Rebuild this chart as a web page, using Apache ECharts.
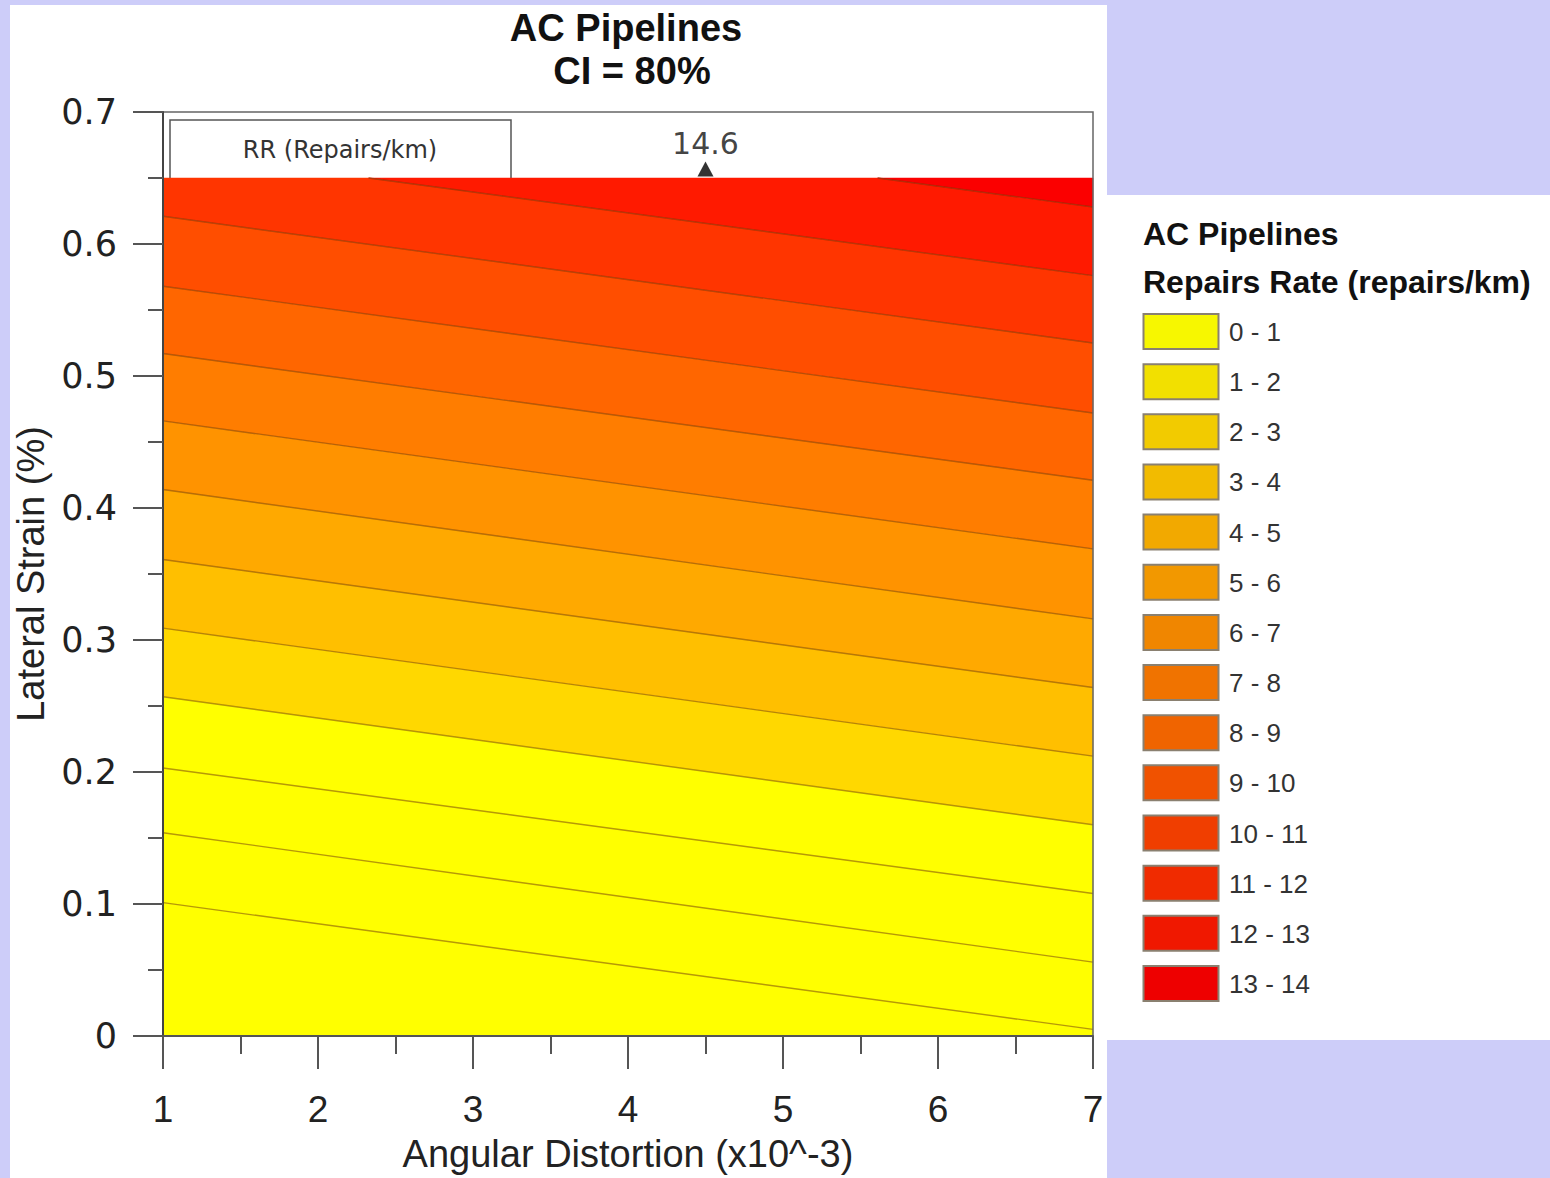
<!DOCTYPE html>
<html>
<head>
<meta charset="utf-8">
<script src="https://cdn.jsdelivr.net/npm/echarts@6/dist/echarts.min.js"></script>
<style>
html,body{margin:0;padding:0;background:#cdcdf9;overflow:hidden;}
#wrap{position:relative;width:1550px;height:1178px;}
.panel{position:absolute;background:#fff;}
#chart{position:absolute;left:0;top:0;width:1550px;height:1178px;}
</style>
</head>
<body>
<div id="wrap">
  <div class="panel" style="left:10px;top:5px;width:1097px;height:1173px;"></div>
  <div class="panel" style="left:1107px;top:195px;width:443px;height:845px;"></div>
  <div id="chart"></div>
</div>
<script>
// ---------------- data ----------------
const xRange = [1, 7];            // Angular Distortion (x10^-3)
const yRange = [0, 0.7];          // Lateral Strain (%) axis
const dataTop = 0.65;             // top of the computed field
// contour lines: lateral strain where each line meets x = 1 and x = 7
const contourAtX1 = [0.723, 0.671, 0.621, 0.568, 0.517, 0.466, 0.414, 0.361, 0.309, 0.257, 0.203, 0.154, 0.101];
const contourAtX7 = [0.628, 0.576, 0.525, 0.472, 0.421, 0.369, 0.316, 0.264, 0.212, 0.160, 0.108, 0.056, 0.005];
// fill colour of each band, from the highest (top-right) to the lowest
const bandColors = ['#fb0000', '#ff1a00', '#ff3500', '#ff4e00', '#ff6600', '#ff7d00', '#ff9300',
                    '#ffa900', '#ffbf00', '#ffd800', '#ffff00', '#ffff00', '#ffff00', '#ffff00'];
// peak annotation
const peakX = 4.5;
const peakValue = 14.6;
// legend classes
const legendLabels = ['0 - 1', '1 - 2', '2 - 3', '3 - 4', '4 - 5', '5 - 6', '6 - 7', '7 - 8',
                      '8 - 9', '9 - 10', '10 - 11', '11 - 12', '12 - 13', '13 - 14'];
const legendColors = ['#f7f700', '#f2e000', '#f2cb00', '#f2bb00', '#f2a900', '#f29800', '#f08600',
                      '#f07300', '#f06400', '#f05200', '#f03e00', '#f02b00', '#f01800', '#ee0000'];

// ---------------- helpers ----------------
const clipRect = {x0: xRange[0], x1: xRange[1], y0: yRange[0], y1: dataTop};
function clipPoly(pts, r) {
  const ix = (a, b, x) => [x, a[1] + (b[1] - a[1]) * (x - a[0]) / (b[0] - a[0])];
  const iy = (a, b, y) => [a[0] + (b[0] - a[0]) * (y - a[1]) / (b[1] - a[1]), y];
  const edges = [
    [p => p[0] >= r.x0, (a, b) => ix(a, b, r.x0)],
    [p => p[0] <= r.x1, (a, b) => ix(a, b, r.x1)],
    [p => p[1] >= r.y0, (a, b) => iy(a, b, r.y0)],
    [p => p[1] <= r.y1, (a, b) => iy(a, b, r.y1)]
  ];
  let out = pts;
  for (const [inside, inter] of edges) {
    const inp = out; out = [];
    for (let i = 0; i < inp.length; i++) {
      const cur = inp[i], prev = inp[(i + inp.length - 1) % inp.length];
      if (inside(cur)) { if (!inside(prev)) out.push(inter(prev, cur)); out.push(cur); }
      else if (inside(prev)) out.push(inter(prev, cur));
    }
    if (!out.length) break;
  }
  return out;
}
function clipSeg(a, b, r) {
  let t0 = 0, t1 = 1;
  const dx = b[0] - a[0], dy = b[1] - a[1];
  const p = [-dx, dx, -dy, dy], q = [a[0] - r.x0, r.x1 - a[0], a[1] - r.y0, r.y1 - a[1]];
  for (let k = 0; k < 4; k++) {
    if (p[k] === 0) { if (q[k] < 0) return null; }
    else {
      const t = q[k] / p[k];
      if (p[k] < 0) { if (t > t1) return null; if (t > t0) t0 = t; }
      else { if (t < t0) return null; if (t < t1) t1 = t; }
    }
  }
  return [[a[0] + t0 * dx, a[1] + t0 * dy], [a[0] + t1 * dx, a[1] + t1 * dy]];
}

const chart = echarts.init(document.getElementById('chart'), null, {renderer: 'svg'});

const bandData = bandColors.map((c, i) => [i]);
const lineData = contourAtX1.map((v, i) => [i]);

const legendGraphics = [];
legendGraphics.push({type: 'text', x: 1143, y: 234, style: {text: 'AC Pipelines', fill: '#111',
  fontSize: 32, fontWeight: 'bold', fontFamily: 'Liberation Sans', verticalAlign: 'middle', align: 'left'}});
legendGraphics.push({type: 'text', x: 1143, y: 282, style: {text: 'Repairs Rate (repairs/km)', fill: '#111',
  fontSize: 32, fontWeight: 'bold', fontFamily: 'Liberation Sans', verticalAlign: 'middle', align: 'left'}});
legendLabels.forEach((lab, i) => {
  const top = 314 + i * 50.15;
  legendGraphics.push({type: 'rect', shape: {x: 1143.5, y: top, width: 75, height: 35},
    style: {fill: legendColors[i], stroke: '#8a8070', lineWidth: 2}});
  legendGraphics.push({type: 'text', x: 1229, y: top + 18, style: {text: lab, fill: '#333',
    fontSize: 26, fontFamily: 'Liberation Sans', verticalAlign: 'middle', align: 'left'}});
});

const option = {
  backgroundColor: 'transparent',
  animation: false,
  graphic: [
    {type: 'text', x: 626, y: 28, style: {text: 'AC Pipelines', fill: '#111', fontSize: 38,
      fontWeight: 'bold', fontFamily: 'Liberation Sans', align: 'center', verticalAlign: 'middle'}},
    {type: 'text', x: 632, y: 71, style: {text: 'CI = 80%', fill: '#111', fontSize: 38,
      fontWeight: 'bold', fontFamily: 'Liberation Sans', align: 'center', verticalAlign: 'middle'}},
    {type: 'rect', shape: {x: 170, y: 120, width: 341, height: 70},
      style: {fill: '#fff', stroke: '#555', lineWidth: 1.5}, z: 1},
    {type: 'text', x: 340, y: 150, style: {text: 'RR (Repairs/km)', fill: '#333', fontSize: 24,
      fontFamily: 'DejaVu Sans', align: 'center', verticalAlign: 'middle'}, z: 1},
    ...legendGraphics
  ],
  grid: {left: 163, top: 112, width: 930, height: 930, show: true, borderColor: '#666',
    borderWidth: 1.5, backgroundColor: 'transparent', z: 10},
  xAxis: {
    type: 'value', min: xRange[0], max: xRange[1], interval: 1, z: 10,
    name: 'Angular Distortion (x10^-3)', nameLocation: 'middle', nameGap: 99,
    nameTextStyle: {fontSize: 38, fontFamily: 'Liberation Sans', color: '#222'},
    axisLine: {show: true, onZero: false, lineStyle: {color: '#555', width: 2}},
    axisTick: {show: true, length: 33, lineStyle: {color: '#555', width: 2}},
    minorTick: {show: true, splitNumber: 2, length: 18, lineStyle: {color: '#555', width: 2}},
    splitLine: {show: false},
    axisLabel: {margin: 55, fontSize: 37, fontFamily: 'Liberation Sans', color: '#222'}
  },
  yAxis: {
    type: 'value', min: yRange[0], max: yRange[1], interval: 0.1, z: 10,
    name: 'Lateral Strain (%)', nameLocation: 'middle', nameGap: 111,
    nameTextStyle: {fontSize: 38, fontFamily: 'Liberation Sans', color: '#222'},
    axisLine: {show: true, onZero: false, lineStyle: {color: '#444', width: 2}},
    axisTick: {show: true, length: 30, lineStyle: {color: '#555', width: 2}},
    minorTick: {show: true, splitNumber: 2, length: 15, lineStyle: {color: '#555', width: 2}},
    splitLine: {show: false},
    axisLabel: {margin: 46, fontSize: 35, fontFamily: 'DejaVu Sans', color: '#222'}
  },
  series: [
    {
      type: 'custom', name: 'bands', coordinateSystem: 'cartesian2d', data: bandData, z: 2,
      silent: true,
      renderItem: function (params, api) {
        const i = api.value(0);
        const big = 10;
        const upL = i === 0 ? big : contourAtX1[i - 1];
        const upR = i === 0 ? big : contourAtX7[i - 1];
        const loL = i >= contourAtX1.length ? -big : contourAtX1[i];
        const loR = i >= contourAtX7.length ? -big : contourAtX7[i];
        const poly = clipPoly([[xRange[0], upL], [xRange[1], upR], [xRange[1], loR], [xRange[0], loL]], clipRect);
        if (poly.length < 3) return null;
        return {type: 'polygon', shape: {points: poly.map(p => api.coord(p))},
          style: {fill: bandColors[i], stroke: bandColors[i], lineWidth: 0.5}};
      }
    },
    {
      type: 'custom', name: 'contours', coordinateSystem: 'cartesian2d', data: lineData, z: 3,
      silent: true,
      renderItem: function (params, api) {
        const i = api.value(0);
        const seg = clipSeg([xRange[0], contourAtX1[i]], [xRange[1], contourAtX7[i]], clipRect);
        if (!seg) return null;
        const a = api.coord(seg[0]), b = api.coord(seg[1]);
        return {type: 'line', shape: {x1: a[0], y1: a[1], x2: b[0], y2: b[1]},
          style: {stroke: 'rgba(110,50,0,0.5)', lineWidth: 1.4}};
      }
    },
    {
      type: 'scatter', name: 'peak', data: [[peakX, dataTop]], z: 5, silent: true,
      symbol: 'triangle', symbolSize: [16, 15], symbolOffset: [0, -9],
      itemStyle: {color: '#000'},
      label: {show: true, position: 'top', distance: 3, formatter: String(peakValue),
        fontSize: 30, fontFamily: 'DejaVu Sans', color: '#111'}
    }
  ]
};
chart.setOption(option);
</script>
</body>
</html>
